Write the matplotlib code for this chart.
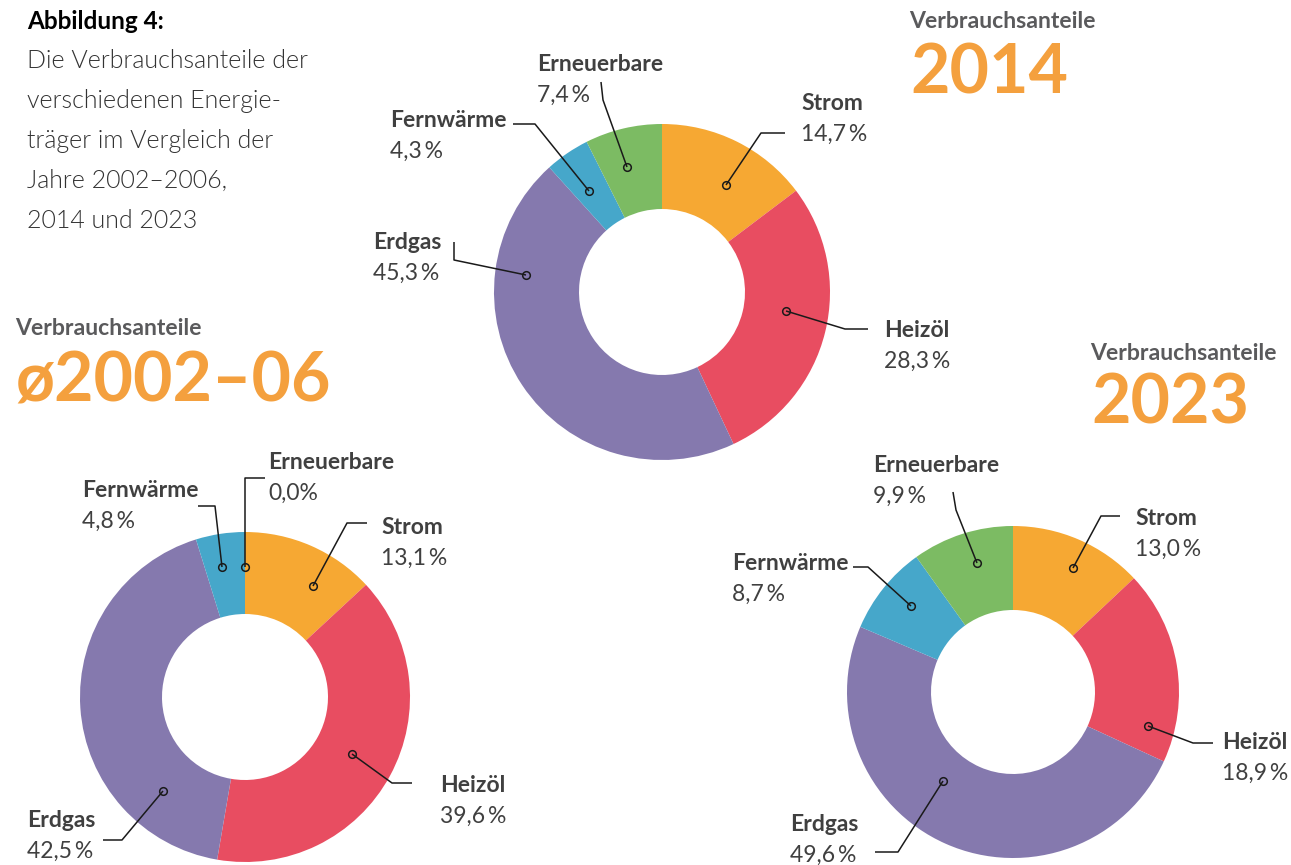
import matplotlib.pyplot as plt

plt.rcParams['font.family'] = ['Lato', 'DejaVu Sans']

W, H = 1291, 865

# --- data -------------------------------------------------------------
carriers = ['Strom', 'Heizöl', 'Erdgas', 'Fernwärme', 'Erneuerbare']
share_2002_06 = [13.1, 39.6, 42.5, 4.8, 0.0]
share_2014 = [14.7, 28.3, 45.3, 4.3, 7.4]
share_2023 = [13.0, 18.9, 49.6, 8.7, 9.9]
colors = ['#F6A833', '#E84D61', '#8579AE', '#46A7CA', '#7CBB63']

ORANGE = '#F4A03E'
GREY = '#5A5A5C'
TXT = '#404040'

# --- layout (pixel coords, y downward) --------------------------------
# leader line: dot -> elbow -> end, then label x, label baseline
charts = [
    dict(values=share_2014, center=(662, 292), r=168, hole=83,
         head=(909, 28), year='2014', year_xy=(910, 94),
         leaders={
             'Strom':       ([(726, 185), (761, 133), (785, 133)], 801, 110),
             'Heizöl':      ([(786, 311), (845, 329), (868, 329)], 884, 337),
             'Erdgas':      ([(526, 275), (454, 260), (454, 242)], 373, 249),
             'Fernwärme':   ([(589, 191), (535, 124), (513, 124)], 390, 127),
             'Erneuerbare': ([(627, 167), (603, 100), (601, 82)], 537, 71),
         }),
    dict(values=share_2002_06, center=(245, 697), r=165, hole=83,
         head=(15, 335), year='ø2002–06', year_xy=(15, 401),
         leaders={
             'Strom':       ([(313, 586), (347, 523), (367, 523)], 381, 534),
             'Heizöl':      ([(352, 754), (392, 783), (412, 783)], 440, 792),
             'Erdgas':      ([(163, 791), (122, 840), (103, 840)], 27, 827),
             'Fernwärme':   ([(222, 567), (215, 506), (198, 506)], 82, 497),
             'Erneuerbare': ([(245, 567), (245, 478), (265, 478)], 268, 469),
         }),
    dict(values=share_2023, center=(1013, 692), r=166, hole=82,
         head=(1090, 360), year='2023', year_xy=(1091, 424),
         leaders={
             'Strom':       ([(1073, 568), (1101, 516), (1120, 516)], 1135, 525),
             'Heizöl':      ([(1148, 726), (1193, 743), (1213, 743)], 1222, 749),
             'Erdgas':      ([(943, 781), (898, 852), (875, 852)], 790, 831),
             'Fernwärme':   ([(911, 606), (868, 567), (853, 567)], 732, 570),
             'Erneuerbare': ([(977, 563), (956, 510), (953, 492)], 873, 472),
         }),
]


def fmt(v):
    s = f'{v:.1f}'.replace('.', ',')
    return s + '%' if v == 0 else s + '\u2009%'


fig = plt.figure(figsize=(W / 100, H / 100), dpi=100)
ax = fig.add_axes([0, 0, 1, 1])

for ch in charts:
    ax.pie(ch['values'], colors=colors, center=ch['center'], radius=ch['r'],
           startangle=270, counterclock=True, normalize=True,
           wedgeprops=dict(width=ch['r'] - ch['hole'], linewidth=0))
    ax.text(*ch['head'], 'Verbrauchsanteile', fontsize=16.6, fontweight='bold',
            color=GREY, va='baseline')
    ax.text(*ch['year_xy'], ch['year'], fontsize=49, fontweight='bold',
            color=ORANGE, va='baseline')
    for name, v in zip(carriers, ch['values']):
        pts, tx, ty = ch['leaders'][name]
        xs, ys = zip(*pts)
        ax.plot(xs, ys, color='#1a1a1a', lw=1.1, solid_capstyle='butt', zorder=5)
        ax.plot(xs[0], ys[0], 'o', ms=5.5, mfc='none', mec='#1a1a1a', mew=1.1, zorder=6)
        ax.text(tx, ty, name, fontsize=16.5, fontweight='bold', color=TXT, va='baseline')
        ax.text(tx, ty + 31, fmt(v), fontsize=16.5, color=TXT, va='baseline')

# figure caption
ax.text(27, 29, 'Abbildung 4:', fontsize=17.5, fontweight='bold', color='black', va='baseline')
caption = ['Die Verbrauchsanteile der', 'verschiedenen Energie-',
           'träger im Vergleich der', 'Jahre 2002–2006,', '2014 und 2023']
for i, line in enumerate(caption):
    ax.text(27, 68 + 40 * i, line, fontsize=18, fontweight=300,
            color='#333333', va='baseline')

# pie() resets the limits, so fix the pixel frame at the end
ax.set_xlim(0, W)
ax.set_ylim(H, 0)
ax.set_aspect('equal')
ax.axis('off')

fig.savefig('out.png', dpi=100)
